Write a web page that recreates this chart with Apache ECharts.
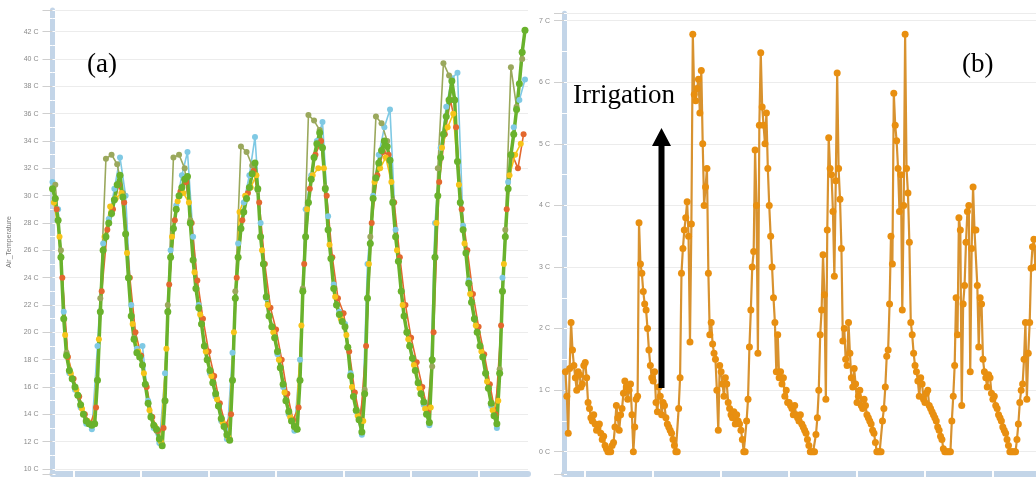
<!DOCTYPE html>
<html>
<head>
<meta charset="utf-8">
<title>Air temperature and irrigation</title>
<script src="https://cdn.jsdelivr.net/npm/echarts@6/dist/echarts.min.js"></script>
<style>
  html, body { margin: 0; padding: 0; background: #fff; }
  #chart { width: 1036px; height: 477px; }
</style>
</head>
<body>
<div id="chart"></div>
<script>
// (a) air temperature from several sensors, in C
// times are hours counted from the first midnight
var greenStart = -7.5, greenStep = 1
var greenTemp = [
  30.5, 29.8, 28.2, 25.5, 21.0, 18.3, 17.2, 16.6, 16.0, 15.4,
  14.7, 14.0, 13.5, 13.3, 13.2, 13.3, 16.5, 21.5, 26.0, 27.0,
  28.0, 28.7, 29.7, 30.8, 31.5, 29.9, 27.2, 24.0, 21.2, 19.5,
  18.5, 18.2, 17.6, 16.2, 14.8, 13.8, 13.2, 12.9, 12.2, 11.7,
  15.0, 21.5, 25.5, 27.6, 29.0, 30.0, 30.6, 31.2, 31.4, 28.0,
  25.3, 23.2, 21.8, 20.6, 19.0, 18.0, 17.2, 16.3, 15.5, 14.6,
  13.7, 13.1, 12.5, 12.1, 16.5, 22.5, 25.5, 27.6, 28.8, 29.8,
  30.6, 31.6, 32.4, 30.5, 27.0, 25.0, 22.6, 21.2, 20.4, 19.6,
  18.6, 17.4, 16.2, 15.0, 14.2, 13.5, 13.1, 12.9, 16.5, 23.0,
  27.0, 29.5, 31.2, 32.8, 33.8, 34.6, 33.5, 30.5, 27.5, 25.4,
  23.2, 22.0, 21.3, 20.8, 20.4, 18.9, 16.8, 15.3, 14.3, 13.6,
  12.7, 15.5, 22.5, 26.5, 29.8, 31.3, 32.4, 33.3, 34.0, 33.6,
  32.6, 29.5, 27.0, 25.2, 23.0, 21.2, 20.0, 19.0, 18.1, 17.2,
  16.3, 15.5, 14.9, 14.0, 13.4, 18.0, 25.5, 30.0, 32.8, 34.5,
  35.8, 37.0, 38.4, 37.0, 32.5, 29.5, 27.5, 25.8, 23.6, 22.2,
  21.0, 20.0, 19.0, 18.2, 17.0, 15.9, 14.8, 13.9, 13.3, 17.0,
  23.0, 27.0, 30.5, 33.0, 34.5, 36.3, 38.2, 40.5, 42.1
]
var yellowStart = -7, yellowStep = 2
var yellowTemp = [
  29.5, 27.0, 19.8, 17.0, 15.8, 14.4, 13.5, 13.3, 19.5, 27.0,
  29.2, 29.8, 30.2, 25.8, 20.6, 18.6, 17.0, 14.3, 13.1, 12.0,
  18.8, 27.0, 29.6, 30.2, 29.5, 24.4, 21.3, 18.6, 16.8, 15.1,
  13.4, 12.3, 20.0, 28.8, 30.0, 30.6, 31.5, 26.0, 22.0, 20.0,
  18.0, 15.6, 13.8, 13.0, 20.5, 29.0, 31.5, 32.0, 32.0, 26.4,
  22.6, 21.0, 19.8, 16.0, 13.9, 13.5, 25.0, 31.0, 32.0, 32.8,
  31.0, 26.0, 22.0, 19.5, 17.6, 15.9, 14.4, 14.5, 28.0, 33.5,
  35.0, 36.0, 30.8, 26.5, 22.8, 20.5, 18.6, 16.4, 14.3, 15.0,
  25.0, 31.5, 33.0, 33.8
]
var cyanStart = -7.5, cyanStep = 2
var cyanTemp = [
  31.0, 29.0, 21.5, 17.0, 15.8, 14.5, 13.3, 12.9, 19.0, 26.5,
  28.3, 30.5, 32.8, 30.0, 22.0, 18.8, 19.0, 15.0, 13.0, 11.9,
  17.0, 26.0, 29.3, 31.5, 33.2, 27.0, 22.0, 19.0, 17.0, 15.3,
  13.5, 12.2, 18.5, 26.5, 29.5, 31.5, 34.3, 28.0, 22.5, 20.4,
  18.4, 16.0, 14.0, 12.8, 18.0, 29.0, 31.5, 34.0, 35.4, 28.5,
  23.5, 21.5, 20.6, 17.0, 14.2, 12.5, 25.0, 30.0, 33.0, 35.0,
  36.3, 27.5, 23.0, 20.0, 18.1, 16.3, 14.7, 13.2, 28.0, 33.5,
  36.5, 38.6, 39.0, 27.8, 23.8, 21.0, 19.0, 17.0, 14.6, 13.0,
  24.0, 31.0, 35.0, 37.0, 38.5
]
var oliveStart = -6.5, oliveStep = 2
var oliveTemp = [
  30.8, 26.0, 18.5, 16.6, 15.4, 14.0, 13.3, 13.3, 22.5, 32.7,
  33.0, 32.3, 30.2, 24.0, 19.6, 18.3, 16.2, 13.8, 12.8, 11.8,
  22.0, 32.8, 33.0, 32.0, 28.2, 23.2, 20.6, 18.0, 16.3, 14.6,
  13.1, 12.2, 23.0, 33.6, 33.2, 32.2, 30.4, 25.0, 21.2, 19.6,
  17.4, 15.0, 13.5, 12.9, 23.2, 35.9, 35.5, 34.8, 30.6, 25.4,
  22.0, 20.8, 18.9, 15.3, 13.6, 15.8, 27.0, 35.8, 35.3, 34.0,
  29.6, 25.2, 21.2, 19.0, 17.2, 15.5, 14.0, 17.5, 32.0, 39.7,
  38.8, 37.0, 29.5, 25.8, 22.2, 20.0, 18.2, 15.9, 13.9, 17.3,
  27.5, 39.4, 36.5, 40.0
]
var orangeStart = -6, orangeStep = 2
var orangeTemp = [
  29.0, 24.0, 18.2, 16.6, 15.3, 14.0, 13.3, 14.5, 23.0, 27.5,
  29.0, 30.8, 29.5, 24.0, 20.0, 18.3, 16.0, 13.8, 12.8, 13.0,
  23.5, 28.2, 30.3, 31.0, 28.0, 23.8, 21.0, 18.6, 16.8, 14.8,
  13.2, 14.0, 24.0, 28.2, 30.2, 31.8, 29.5, 25.0, 21.8, 20.2,
  18.0, 15.5, 13.6, 14.5, 25.0, 30.5, 33.0, 34.0, 30.0, 25.5,
  22.5, 21.4, 18.6, 15.6, 13.6, 19.0, 28.0, 31.5, 33.2, 33.0,
  29.5, 25.5, 22.0, 19.6, 17.8, 16.0, 14.2, 20.0, 31.0, 34.5,
  37.0, 35.0, 29.0, 26.0, 22.8, 20.4, 18.4, 16.2, 14.0, 20.5,
  29.0, 33.0, 32.0, 34.5
]

// (b) irrigation sensor, every half hour
var irrStart = -7, irrStep = 0.5
var irrValue = [
  1.3, 0.9, 0.3, 1.35, 2.1, 1.65, 1.4, 1.2, 1.0, 1.3,
  1.25, 1.05, 1.1, 1.4, 1.45, 1.2, 0.8, 0.7, 0.55, 0.5,
  0.6, 0.45, 0.35, 0.4, 0.45, 0.3, 0.2, 0.25, 0.1, 0.05,
  0.0, 0.0, 0.0, 0.1, 0.15, 0.4, 0.75, 0.55, 0.35, 0.6,
  0.7, 0.95, 1.15, 1.05, 0.85, 1.0, 1.1, 0.6, 0.0, 0.4,
  0.85, 0.9, 3.72, 3.05, 2.9, 2.6, 2.4, 2.3, 2.0, 1.65,
  1.4, 1.2, 1.15, 1.3, 0.8, 0.65, 1.05, 0.9, 0.6, 0.8,
  0.75, 0.55, 0.45, 0.4, 0.35, 0.3, 0.2, 0.1, 0.0, 0.0,
  0.7, 1.2, 2.9, 3.3, 3.6, 3.8, 4.06, 3.5, 1.78, 3.7,
  6.78, 5.8, 5.7, 5.9, 6.05, 5.5, 6.19, 5.0, 4.0, 4.3,
  4.6, 2.9, 1.9, 2.1, 1.75, 1.6, 1.5, 1.0, 0.35, 1.4,
  1.3, 1.1, 0.9, 1.2, 1.1, 0.8, 0.7, 0.6, 0.55, 0.65,
  0.45, 0.6, 0.5, 0.45, 0.35, 0.2, 0.0, 0.0, 0.5, 0.85,
  1.7, 2.3, 3.0, 3.25, 4.9, 4.0, 1.6, 5.3, 6.48, 5.6,
  5.3, 5.0, 5.5, 4.6, 4.0, 3.5, 3.0, 2.5, 2.1, 1.3,
  1.9, 1.2, 1.3, 1.1, 1.2, 0.9, 1.0, 0.8, 0.8, 0.75,
  0.7, 0.6, 0.75, 0.6, 0.55, 0.5, 0.6, 0.45, 0.4, 0.35,
  0.3, 0.2, 0.1, 0.0, 0.0, 0.0, 0.0, 0.28, 0.55, 1.0,
  1.9, 2.3, 3.2, 2.55, 0.85, 3.6, 5.1, 4.6, 4.5, 3.9,
  2.85, 4.4, 6.15, 4.6, 4.1, 3.3, 1.8, 2.0, 1.5, 1.4,
  2.1, 1.6, 1.2, 1.05, 1.35, 1.1, 0.8, 0.9, 1.0, 0.75,
  0.7, 0.85, 0.75, 0.6, 0.55, 0.5, 0.45, 0.35, 0.3, 0.15,
  0.0, 0.0, 0.0, 0.0, 0.5, 0.7, 1.05, 1.55, 1.65, 2.4,
  3.5, 3.05, 5.82, 5.3, 5.05, 4.6, 3.9, 4.5, 2.3, 4.0,
  6.78, 4.6, 4.2, 3.4, 2.1, 1.9, 1.6, 1.4, 1.3, 1.15,
  0.9, 1.2, 1.1, 0.85, 0.8, 0.95, 1.0, 0.75, 0.7, 0.65,
  0.6, 0.55, 0.5, 0.4, 0.35, 0.25, 0.2, 0.05, 0.0, 0.0,
  0.0, 0.0, 0.0, 0.5, 0.9, 1.4, 2.5, 1.9, 3.8, 3.6,
  0.75, 2.4, 2.7, 3.4, 3.9, 4.0, 1.3, 3.3, 4.3, 3.6,
  3.6, 2.7, 1.7, 2.5, 2.4, 1.5, 1.3, 1.2, 1.05, 1.25,
  1.2, 0.95, 0.85, 0.9, 0.75, 0.7, 0.6, 0.55, 0.5, 0.4,
  0.35, 0.3, 0.2, 0.1, 0.0, 0.0, 0.0, 0.0, 0.0, 0.2,
  0.45, 0.8, 1.0, 1.1, 1.5, 2.1, 0.85, 1.6, 2.1, 2.98,
  3.33, 3.45, 3.0, 3.3, 3.5, 3.7, 4.0, 3.6, 3.8
]

// midnights, where the bottom bar is split
var dayTicks = [0, 24, 48, 72, 96, 120, 144]

var barColor = '#c3d5e8'
var gridColor = '#ececec'

function toPairs(start, step, values) {
  return values.map(function (v, i) { return [start + i * step, v] })
}

function tempSeries(name, color, start, step, values, big) {
  return {
    name: name,
    type: 'line',
    xAxisIndex: 0,
    yAxisIndex: 0,
    data: toPairs(start, step, values),
    symbol: 'circle',
    symbolSize: big ? 7 : 6,
    lineStyle: {color: color, width: big ? 3.5 : 1.6},
    itemStyle: {color: color},
    emphasis: {disabled: true}
  }
}

function mainY(grid, min, max, split, extra) {
  var axis = {
    type: 'value', gridIndex: grid, position: 'left',
    min: min, max: max, splitNumber: split,
    axisLine: {show: true, onZero: false, lineStyle: {color: barColor, width: 5}},
    axisTick: {show: true, length: 10, lineStyle: {color: '#cfcfcf'}},
    minorTick: {show: true, splitNumber: 2, length: 3, lineStyle: {color: '#fff'}},
    axisLabel: {
      fontSize: 7, color: '#8a8a8a', margin: 14, fontFamily: 'Liberation Sans',
      showMinLabel: false, showMaxLabel: false, formatter: '{value} C'
    },
    splitLine: {show: true, lineStyle: {color: gridColor}}
  }
  return Object.assign(axis, extra || {})
}

// second axis only paints the white gaps on the inner half of the bar
function gapY(grid, min, max, split) {
  return {
    type: 'value', gridIndex: grid, position: 'left',
    min: min, max: max, splitNumber: split,
    axisLine: {show: false, onZero: false},
    axisTick: {show: true, inside: true, length: 3, lineStyle: {color: '#fff'}},
    minorTick: {show: true, splitNumber: 2, length: 3, lineStyle: {color: '#fff'}},
    axisLabel: {show: false},
    splitLine: {show: false}
  }
}

function mainX(grid, min, max) {
  return {
    type: 'value', gridIndex: grid, position: 'bottom', min: min, max: max,
    axisLine: {show: true, onZero: false, lineStyle: {color: barColor, width: 6}},
    axisTick: {show: true, customValues: dayTicks, length: 3, lineStyle: {color: '#fff', width: 2}},
    axisLabel: {show: false},
    splitLine: {show: false}
  }
}

function gapX(grid, min, max) {
  return {
    type: 'value', gridIndex: grid, position: 'bottom', min: min, max: max,
    axisLine: {show: false, onZero: false},
    axisTick: {show: true, inside: true, customValues: dayTicks, length: 3, lineStyle: {color: '#fff', width: 2}},
    axisLabel: {show: false},
    splitLine: {show: false}
  }
}

var serif = '27px "Liberation Serif", "Times New Roman", serif'

var option = {
  animation: false,
  backgroundColor: '#fff',
  grid: [
    {left: 52.5, top: 10, width: 475.5, height: 464},
    {left: 564, top: 13.3, width: 472, height: 460.7}
  ],
  xAxis: [
    mainX(0, -7.5, 161.57),
    gapX(0, -7.5, 161.57),
    mainX(1, -7.5, 159.23),
    gapX(1, -7.5, 159.23)
  ],
  yAxis: [
    mainY(0, 9.63, 43.59, 17, {
      name: 'Air_Temperature', nameLocation: 'middle', nameGap: 40,
      nameTextStyle: {fontSize: 7, color: '#777', fontFamily: 'Liberation Sans'}
    }),
    gapY(0, 9.63, 43.59, 17),
    mainY(1, -0.362, 7.12, 7),
    gapY(1, -0.362, 7.12, 7)
  ],
  series: [
    tempSeries('Sensor 3', '#7fc9e4', cyanStart, cyanStep, cyanTemp),
    tempSeries('Sensor 4', '#9aa85c', oliveStart, oliveStep, oliveTemp),
    tempSeries('Sensor 5', '#e3682e', orangeStart, orangeStep, orangeTemp),
    tempSeries('Sensor 2', '#f6c419', yellowStart, yellowStep, yellowTemp),
    tempSeries('Sensor 1', '#69b22c', greenStart, greenStep, greenTemp, true),
    {
      name: 'Irrigation',
      type: 'line',
      xAxisIndex: 2,
      yAxisIndex: 2,
      data: toPairs(irrStart, irrStep, irrValue),
      symbol: 'circle',
      symbolSize: 7,
      lineStyle: {color: '#d8922f', width: 2.2},
      itemStyle: {color: '#e88f10'},
      emphasis: {disabled: true}
    }
  ],
  graphic: [
    {type: 'text', x: 87, y: 64.5, z: 100,
      style: {text: '(a)', font: serif, fill: '#000', verticalAlign: 'middle'}},
    {type: 'text', x: 962, y: 64.5, z: 100,
      style: {text: '(b)', font: serif, fill: '#000', verticalAlign: 'middle'}},
    {type: 'text', x: 573, y: 96, z: 100,
      style: {text: 'Irrigation', font: serif, fill: '#000', verticalAlign: 'middle'}},
    {type: 'polygon', z: 100,
      shape: {points: [[661.5, 128], [671, 146], [664.5, 146], [664.5, 388], [658.5, 388], [658.5, 146], [652, 146]]},
      style: {fill: '#000'}}
  ]
}

var chart = echarts.init(document.getElementById('chart'))
chart.setOption(option)
</script>
</body>
</html>
